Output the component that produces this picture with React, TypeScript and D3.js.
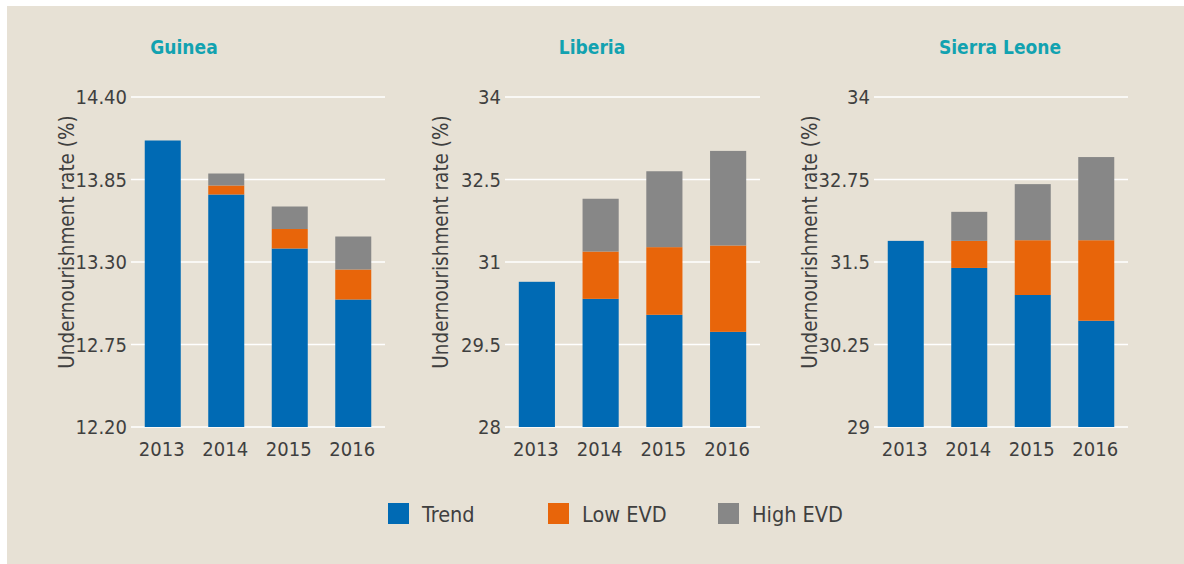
import React from "react";
import * as d3 from "d3";

// ---------- data ----------
const years = ["2013", "2014", "2015", "2016"];
const seriesNames = ["Trend", "Low EVD", "High EVD"];
const seriesColors = ["#006ab4", "#e8650a", "#878787"];

const guineaTrend = [14.11, 13.75, 13.39, 13.05];
const guineaLow = [0, 0.06, 0.13, 0.2];
const guineaHigh = [0, 0.08, 0.15, 0.22];
const guineaTicks = [12.2, 12.75, 13.3, 13.85, 14.4];

const liberiaTrend = [30.64, 30.33, 30.04, 29.73];
const liberiaLow = [0, 0.86, 1.23, 1.57];
const liberiaHigh = [0, 0.96, 1.38, 1.72];
const liberiaTicks = [28, 29.5, 31, 32.5, 34];

const sierraTrend = [31.82, 31.41, 31.0, 30.61];
const sierraLow = [0, 0.41, 0.83, 1.22];
const sierraHigh = [0, 0.44, 0.85, 1.26];
const sierraTicks = [29, 30.25, 31.5, 32.75, 34];

const axisTitle = "Undernourishment rate (%)";

const panels = [
  { name: "Guinea", series: [guineaTrend, guineaLow, guineaHigh], ticks: guineaTicks, fmt: d3.format(".2f") },
  { name: "Liberia", series: [liberiaTrend, liberiaLow, liberiaHigh], ticks: liberiaTicks, fmt: (v: number) => String(v) },
  { name: "Sierra Leone", series: [sierraTrend, sierraLow, sierraHigh], ticks: sierraTicks, fmt: (v: number) => String(v) },
];

// ---------- layout ----------
const W = 1184;
const H = 564;
const plotX = [
  [131, 385],
  [505, 760],
  [874, 1128],
];
const titleX = [184, 592, 1000];
const plotTop = 97;
const plotBottom = 427;
const BG = "#e7e1d5";
const TEXT = "#3f3f3f";
const FONT = "'Liberation Sans Narrow', 'DejaVu Sans Condensed', 'Liberation Sans', sans-serif";

function Panel({ p, i }: { p: (typeof panels)[number]; i: number }) {
  const [x0, x1] = plotX[i];
  const y = d3
    .scaleLinear()
    .domain([p.ticks[0], p.ticks[p.ticks.length - 1]])
    .range([plotBottom, plotTop])
    .clamp(true);
  const x = d3.scaleBand<string>().domain(years).range([x0, x1]).paddingInner(0.433).paddingOuter(0.2165);

  const rows = years.map((yr, j) => {
    const r: any = { year: yr };
    seriesNames.forEach((s, k) => (r[s] = p.series[k][j]));
    return r;
  });
  const stacked = d3.stack<any>().keys(seriesNames)(rows);

  return (
    <g>
      <text
        x={titleX[i]}
        y={54}
        textAnchor="middle"
        fontFamily={FONT}
        fontWeight="bold"
        fontSize={19}
        fill="#12a2b0"
      >
        {p.name}
      </text>
      {p.ticks.map((t) => (
        <g key={t}>
          <line x1={x0} x2={x1} y1={y(t)} y2={y(t)} stroke="#ffffff" strokeWidth={1.6} />
          <text
            x={x0 - 4}
            y={y(t)}
            dy="0.36em"
            textAnchor="end"
            fontFamily={FONT}
            fontSize={20}
            fill={TEXT}
          >
            {p.fmt(t)}
          </text>
        </g>
      ))}
      {stacked.map((layer, k) => (
        <g key={layer.key} fill={seriesColors[k]}>
          {layer.map((d, j) =>
            d[1] - d[0] > 0 ? (
              <rect
                key={j}
                x={x(years[j])}
                width={x.bandwidth()}
                y={y(d[1])}
                height={y(d[0]) - y(d[1])}
              />
            ) : null
          )}
        </g>
      ))}
      {years.map((yr) => (
        <text
          key={yr}
          x={(x(yr) as number) + x.bandwidth() / 2 - 1}
          y={456}
          textAnchor="middle"
          fontFamily={FONT}
          fontSize={20}
          fill={TEXT}
        >
          {yr}
        </text>
      ))}
      <text
        transform={`translate(${x0 - 57},242) rotate(-90)`}
        textAnchor="middle"
        fontFamily={FONT}
        fontSize={20.5}
        fill={TEXT}
      >
        {axisTitle}
      </text>
    </g>
  );
}

const legendX = [388, 548, 718];

export default function App() {
  return (
    <svg
      width={W}
      height={H}
      style={{ position: "absolute", left: 0, top: 0, display: "block" }}
    >
      <rect x={0} y={0} width={W} height={H} fill="#ffffff" />
      <rect x={7} y={6} width={W - 7} height={H - 6} fill={BG} />
      {panels.map((p, i) => (
        <Panel key={p.name} p={p} i={i} />
      ))}
      {seriesNames.map((s, k) => (
        <g key={s}>
          <rect x={legendX[k]} y={503} width={21} height={21} fill={seriesColors[k]} />
          <text x={legendX[k] + 34} y={522} fontFamily={FONT} fontSize={21.5} fill={TEXT}>
            {s}
          </text>
        </g>
      ))}
    </svg>
  );
}
